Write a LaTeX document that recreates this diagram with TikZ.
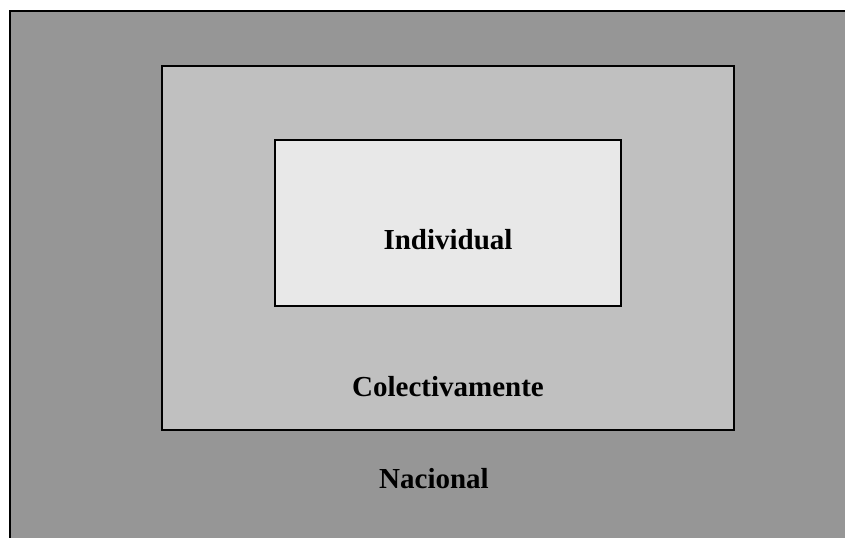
\documentclass[tikz,border=0pt]{standalone}
\usepackage{fontspec}
\setmainfont{Liberation Serif}
\definecolor{nacionalgray}{RGB}{150,150,150}
\definecolor{colectivogray}{RGB}{192,192,192}
\definecolor{individualgray}{RGB}{232,232,232}
\begin{document}
\begin{tikzpicture}[x=0.75pt, y=-0.75pt,
  label/.style={font=\fontsize{21.75}{26}\selectfont\bfseries, anchor=base, inner sep=0pt}]

%definitions
\def\bounding{(0,0) rectangle (845,538)}
\def\nacionalrect{(10,11) rectangle (850,542)}
\def\colectivorect{(162,66) rectangle (734,430)}
\def\individualrect{(275,140) rectangle (621,306)}

\useasboundingbox \bounding;
\clip \bounding;

%fills and shapes
\filldraw[fill=nacionalgray, line width=1.3pt] \nacionalrect;
\filldraw[fill=colectivogray, line width=1.3pt] \colectivorect;
\filldraw[fill=individualgray, line width=1.3pt] \individualrect;

%labels
\node[label] (individual) at (448,249) {Individual};
\node[label] (colectivamente) at (448,396) {Colectivamente};
\node[label] (nacional) at (434,488) {Nacional};
\end{tikzpicture}
\end{document}
